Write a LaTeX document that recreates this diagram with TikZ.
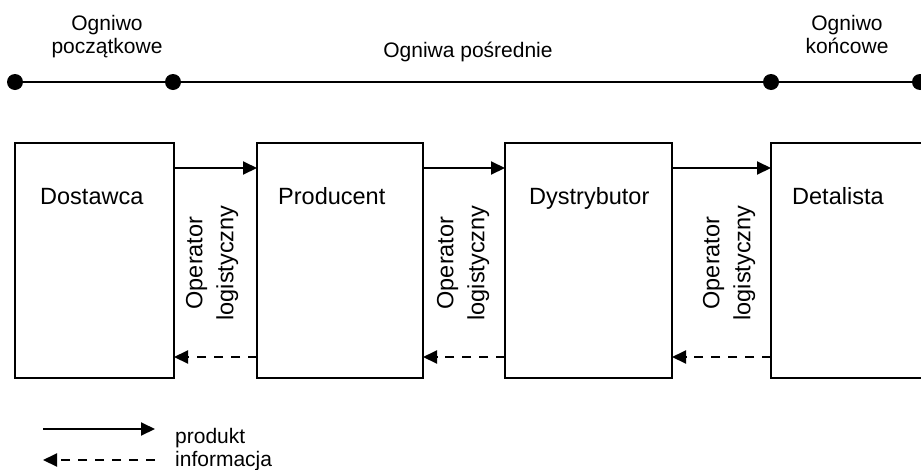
\documentclass[tikz,border=0pt]{standalone}
\usepackage{fontspec}
\setmainfont{Liberation Sans}
\usetikzlibrary{arrows.meta}
\newcommand\figsmall{\fontsize{21}{23}\selectfont}
\newcommand\figbig{\fontsize{23.5}{31}\selectfont}
\begin{document}
\begin{tikzpicture}[x=1pt,y=-1pt,
  dot/.style={circle,fill=black,inner sep=0pt,minimum size=16pt},
  chain/.style={line width=2.5pt},
  box/.style={draw,line width=2.5pt,inner sep=0pt,outer sep=0pt,anchor=north west,minimum height=235pt},
  boxlabel/.style={font=\figbig,inner sep=0pt,anchor=base west},
  rot/.style={font=\figbig,rotate=90,align=center,inner sep=0pt},
  toplabel/.style={font=\figsmall,align=center,inner sep=0pt},
  leglabel/.style={font=\figsmall,inner sep=0pt,anchor=base west},
  prod/.style={line width=2pt,-{Triangle[length=14pt,width=13pt]}},
  info/.style={line width=2pt,dash pattern=on 9pt off 8pt,-{Triangle[length=14pt,width=13pt]}}
]
\useasboundingbox (0,0) rectangle (921,469);

% chain line with dots
\node[dot] (d1) at (15,82) {};
\node[dot] (d2) at (173,82) {};
\node[dot] (d3) at (771,82) {};
\node[dot] (d4) at (920,82) {};
\draw[chain] (d1) -- (d2) -- (d3) -- (d4);

\node[toplabel,anchor=north] (t1) at (107,15) {Ogniwo\\początkowe};
\node[toplabel,anchor=base] (t2) at (468,57) {Ogniwa pośrednie};
\node[toplabel,anchor=north] (t3) at (847,15) {Ogniwo\\końcowe};

% boxes
\node[box,minimum width=159pt] (b1) at (15,143) {};
\node[box,minimum width=166pt] (b2) at (257,143) {};
\node[box,minimum width=167pt] (b3) at (505,143) {};
\node[box,minimum width=180pt] (b4) at (771,143) {};

\node[boxlabel] (l1) at (40,204) {Dostawca};
\node[boxlabel] (l2) at (278,204) {Producent};
\node[boxlabel] (l3) at (529,204) {Dystrybutor};
\node[boxlabel] (l4) at (792,204) {Detalista};

% operators
\node[rot] (o1) at (212,263) {Operator\\logistyczny};
\node[rot] (o2) at (463,263) {Operator\\logistyczny};
\node[rot] (o3) at (729,263) {Operator\\logistyczny};

% flows
\coordinate (ytop) at (0,168);
\coordinate (ybot) at (0,357);
\draw[prod] (b1.east |- ytop) -- (b2.west |- ytop);
\draw[prod] (b2.east |- ytop) -- (b3.west |- ytop);
\draw[prod] (b3.east |- ytop) -- (b4.west |- ytop);
\draw[info] (b2.west |- ybot) -- (b1.east |- ybot);
\draw[info] (b3.west |- ybot) -- (b2.east |- ybot);
\draw[info] (b4.west |- ybot) -- (b3.east |- ybot);

% legend
\coordinate (la) at (43,429);
\coordinate (lb) at (155,429);
\coordinate (lc) at (155,460);
\coordinate (ld) at (43,460);
\draw[prod] (la) -- (lb);
\draw[info] (lc) -- (ld);
\node[leglabel] (p) at (175,443) {produkt};
\node[leglabel] (i) at (175,466) {informacja};
\end{tikzpicture}
\end{document}
